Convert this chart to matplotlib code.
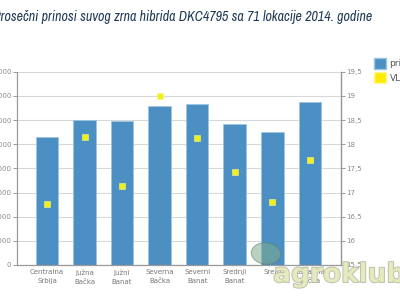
import matplotlib
matplotlib.use("Agg")
import matplotlib.pyplot as plt
import matplotlib.patheffects as pe
from matplotlib import font_manager
from matplotlib.patches import Patch, Ellipse
from matplotlib.ticker import FuncFormatter
import numpy as np

# podaci ocitani sa slike
regioni = ["Centralna\nSrbija", "Južna\nBačka", "Južni\nBanat", "Severna\nBačka",
           "Severni\nBanat", "Srednji\nBanat", "Srem", "Zapadna\nBačka"]
prinos = [10570, 11980, 11900, 13190, 13350, 11700, 11010, 13470]
vlaga = [16.77, 18.15, 17.14, 18.99, 18.13, 17.43, 16.80, 17.67]

naslov = "Prosečni prinosi suvog zrna hibrida DKC4795 sa 71 lokacije 2014. godine"
legenda = ["prinos", "VLAGA"]

plava = "#4b8fc3"
zuta = "#f0f014"
siva = "#8a8a8a"

# uzi font za naslov ako postoji
uski = None
for f in font_manager.fontManager.ttflist:
    if "Narrow" in f.name or "Condensed" in f.name:
        uski = f.name
        break
naslov_font = [uski, "DejaVu Sans"] if uski else ["DejaVu Sans"]

fig = plt.figure(figsize=(4, 3), dpi=100)
ax = fig.add_axes([0.0425, 0.1167, 0.81, 0.644])
x = np.arange(len(regioni))

ax.bar(x, prinos, width=0.6, color=plava, edgecolor="#9cc4e0", linewidth=0.6, zorder=2)
ax.set_xlim(-0.8, 7.83)
ax.set_ylim(0, 16000)
ax.set_yticks(np.arange(0, 16001, 2000))
ax.grid(axis="y", color="#d8d8d8", linewidth=0.8, zorder=0)
ax.set_xticks(x)
ax.set_xticklabels(regioni, fontsize=5, color="#777777", linespacing=1.6)
ax.tick_params(axis="x", length=0, pad=3)
ax.tick_params(axis="y", labelsize=5, colors=siva, length=3, width=0.6, pad=1)
ax.spines["top"].set_visible(False)
for s in ["left", "bottom", "right"]:
    ax.spines[s].set_color("#9a9a9a")
    ax.spines[s].set_linewidth(0.9)

ax2 = ax.twinx()
ax2.plot(x, vlaga, "s", color=zuta, markersize=3.8, markeredgecolor="#f6f6a0",
         markeredgewidth=0.4, zorder=3)
ax2.set_ylim(15.5, 19.5)
ax2.set_yticks(np.arange(15.5, 19.51, 0.5))
ax2.yaxis.set_major_formatter(FuncFormatter(lambda v, p: f"{v:g}".replace(".", ",")))
ax2.tick_params(axis="y", labelsize=5, colors=siva, length=3, width=0.6, pad=1)
for s in ["top", "left", "bottom"]:
    ax2.spines[s].set_visible(False)
ax2.spines["right"].set_color("#9a9a9a")
ax2.spines["right"].set_linewidth(0.9)

handles = [Patch(facecolor=plava, edgecolor="#9cc4e0"),
           Patch(facecolor="#ffec00", edgecolor="#fff7a0")]
fig.legend(handles, legenda, loc="upper left", bbox_to_anchor=(0.915, 0.835),
           frameon=False, fontsize=6.5, handlelength=1.3, handleheight=1.5,
           handletextpad=0.4, labelspacing=0.4, labelcolor="#555555")

t = fig.text(-0.018, 0.945, naslov, fontsize=10, color="#1f3a55", fontweight="bold",
             style="italic", family=naslov_font, va="center")
# naslov treba da se zavrsi oko 373 px
r = fig.canvas.get_renderer()
w = t.get_window_extent(r).width
t.set_fontsize(10 * 380 / w)

# vodeni zig
fig.patches.append(Ellipse((0.665, 0.155), 0.075, 0.07, angle=-35, transform=fig.transFigure,
                           facecolor="#7fae8c", edgecolor="#5f7f70", alpha=0.55, lw=0.8))
fig.text(0.683, 0.083, "agroklub", fontsize=19, fontweight="bold", color="#e6ebbd",
         alpha=0.9, va="center",
         path_effects=[pe.withStroke(linewidth=1.2, foreground="#b5b5a5")])

fig.savefig("out.png", dpi=100)
